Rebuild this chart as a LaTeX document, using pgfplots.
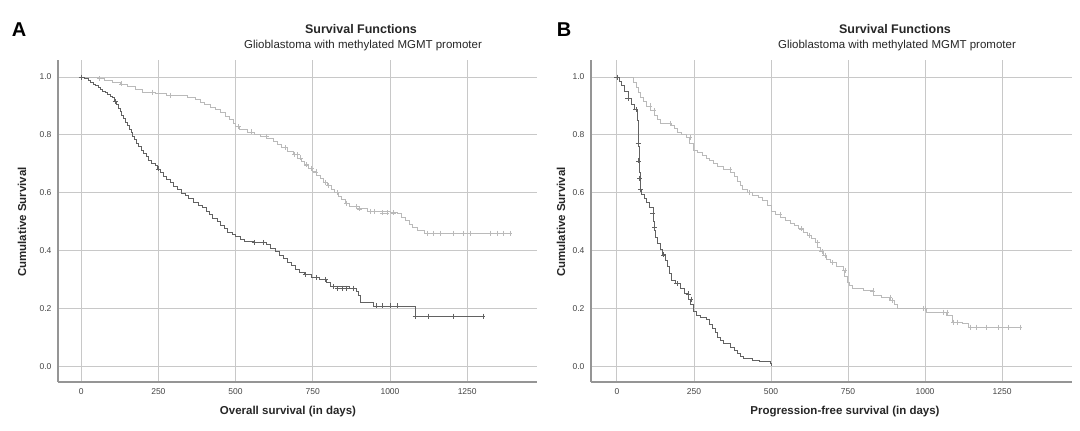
\documentclass[border=0pt]{standalone}
\usepackage{fontspec}
\setmainfont{Liberation Sans}
\usepackage{pgfplots}
\pgfplotsset{compat=1.18}
\definecolor{darkc}{HTML}{626262}
\definecolor{lightc}{HTML}{BABABA}
\definecolor{gridc}{HTML}{C8C8C8}
\definecolor{spinec}{HTML}{959595}
\definecolor{tickc}{HTML}{444444}
\pgfplotsset{
  kmaxis/.style={
    scale only axis,
    anchor=south west,
    height=322pt,
    ymin=-0.055, ymax=1.059,
    axis lines*=left,
    axis line style={draw=spinec, line width=1.1pt},
    grid=major,
    major grid style={draw=gridc, line width=0.8pt},
    major tick length=0pt,
    xtick={0,250,500,750,1000,1250},
    ytick={0,0.2,0.4,0.6,0.8,1.0},
    yticklabel style={/pgf/number format/.cd, fixed, fixed zerofill, precision=1, /tikz/.cd},
    /pgf/number format/assume math mode=true,
    /pgf/number format/1000 sep={},
    tick label style={font=\fontsize{8.5}{10}\selectfont, text=tickc},
    xticklabel style={yshift=-3pt},
    yticklabel style={xshift=-3pt},
    clip=false,
  },
  darkline/.style={const plot, color=darkc, line width=0.75pt, mark=none},
  lightline/.style={const plot, color=lightc, line width=0.9pt, mark=none},
  darkmark/.style={only marks, mark=+, mark size=2.5pt, color=darkc, mark options={line width=0.6pt}},
  lightmark/.style={only marks, mark=+, mark size=2.5pt, color=lightc, mark options={line width=0.6pt}},
}
\begin{document}
\begin{tikzpicture}[x=1pt,y=1pt]
\useasboundingbox (0pt,0pt) rectangle (1080pt,431pt);
% ---------------- Panel A ----------------
\begin{axis}[kmaxis, at={(58pt,49pt)}, width=479pt, xmin=-75, xmax=1476]
\addplot[lightline] coordinates {
(0,1.0)(45,1.0)(58,0.994)(75,0.988)(100,0.982)(126,0.976)(150,0.966)(175,0.957)
(200,0.948)(240,0.942)(275,0.937)(343,0.930)(370,0.922)(385,0.913)(400,0.905)
(420,0.896)(436,0.887)(450,0.876)(466,0.865)(480,0.852)(492,0.840)(500,0.828)
(512,0.818)(537,0.810)(560,0.802)(580,0.795)(600,0.786)(621,0.776)(636,0.766)
(650,0.756)(668,0.744)(686,0.732)(700,0.720)(712,0.708)(724,0.696)(736,0.684)
(750,0.672)(762,0.660)(774,0.648)(786,0.636)(798,0.624)(810,0.612)(820,0.600)
(832,0.588)(844,0.576)(856,0.564)(870,0.552)(890,0.544)(926,0.535)(1000,0.530)
(1023,0.527)(1036,0.515)(1050,0.503)(1062,0.491)(1074,0.480)(1090,0.470)
(1113,0.460)(1388,0.460)};
\addplot[lightmark] coordinates {
(60,0.994)(130,0.976)(230,0.948)(290,0.937)(510,0.828)(550,0.810)(600,0.795)
(660,0.756)(690,0.732)(700,0.732)(710,0.720)(730,0.696)(745,0.684)(760,0.672)(790,0.636)
(800,0.624)(830,0.600)(860,0.564)(890,0.552)(900,0.544)(935,0.535)(950,0.535)
(975,0.530)(990,0.530)(1010,0.530)(1120,0.46)(1140,0.46)(1162,0.46)(1204,0.46)
(1236,0.46)(1259,0.46)(1324,0.46)(1346,0.46)(1366,0.46)(1388,0.46)};
\addplot[darkline] coordinates {
(0,1.0)(12,0.994)(22,0.988)(30,0.982)(38,0.976)(46,0.970)(55,0.964)(62,0.958)
(70,0.952)(78,0.946)(86,0.940)(95,0.934)(102,0.928)(108,0.916)(114,0.904)
(120,0.892)(126,0.880)(131,0.868)(137,0.856)(143,0.844)(150,0.832)(156,0.820)
(161,0.808)(166,0.796)(172,0.784)(178,0.772)(186,0.760)(194,0.748)(202,0.736)
(210,0.724)(218,0.712)(228,0.700)(240,0.694)(248,0.682)(256,0.670)(266,0.658)
(276,0.646)(288,0.634)(300,0.622)(312,0.610)(324,0.598)(336,0.592)(348,0.580)
(362,0.568)(378,0.556)(392,0.548)(404,0.536)(414,0.524)(426,0.512)(440,0.500)
(452,0.488)(464,0.476)(474,0.464)(488,0.456)(500,0.448)(514,0.440)(530,0.432)
(560,0.428)(600,0.420)(612,0.408)(628,0.396)(642,0.384)(656,0.372)(668,0.360)
(680,0.348)(692,0.336)(705,0.324)(724,0.316)(745,0.306)(770,0.300)(795,0.288)
(808,0.276)(870,0.270)(890,0.258)(897,0.245)(903,0.220)(945,0.208)(1081,0.173)
(1301,0.173)};
\addplot[darkmark] coordinates {
(0,1.0)(110,0.916)(250,0.682)(560,0.428)(590,0.428)(725,0.316)(760,0.306)(790,0.300)
(815,0.276)(830,0.270)(845,0.270)(860,0.270)(880,0.270)(955,0.208)(975,0.208)
(1000,0.208)(1023,0.208)(1081,0.173)(1123,0.173)(1204,0.173)(1301,0.173)};
\end{axis}
% ---------------- Panel B ----------------
\begin{axis}[kmaxis, at={(591pt,49pt)}, width=481pt, xmin=-84, xmax=1477]
\addplot[lightline] coordinates {
(0,1.0)(45,1.0)(55,0.98)(65,0.965)(70,0.948)(75,0.930)(86,0.915)(97,0.900)
(110,0.884)(123,0.868)(132,0.855)(140,0.840)(178,0.834)(186,0.822)(195,0.810)
(210,0.800)(227,0.790)(237,0.770)(247,0.745)(263,0.738)(279,0.730)(290,0.720)
(300,0.710)(312,0.700)(325,0.690)(345,0.680)(367,0.670)(380,0.655)(390,0.640)
(400,0.625)(409,0.610)(425,0.600)(440,0.590)(458,0.582)(474,0.574)(490,0.555)
(503,0.535)(516,0.525)(530,0.515)(546,0.505)(562,0.495)(576,0.485)(590,0.475)
(604,0.464)(617,0.453)(630,0.442)(645,0.428)(652,0.412)(659,0.396)(670,0.384)
(681,0.370)(692,0.358)(712,0.345)(734,0.332)(740,0.310)(747,0.290)(756,0.280)
(766,0.270)(800,0.260)(831,0.246)(858,0.238)(886,0.228)(900,0.215)(912,0.200)
(994,0.200)(1006,0.187)(1071,0.176)(1088,0.152)(1123,0.149)(1140,0.135)(1308,0.135)};
\addplot[lightmark] coordinates {
(107,0.900)(120,0.884)(172,0.840)(237,0.790)(367,0.680)(430,0.600)(529,0.525)
(600,0.475)(625,0.453)(650,0.428)(665,0.396)(675,0.384)(700,0.358)(740,0.332)
(831,0.260)(886,0.238)(895,0.228)(994,0.200)(1000,0.200)(1060,0.187)(1071,0.187)
(1092,0.152)(1105,0.152)(1146,0.135)(1167,0.135)(1200,0.135)(1238,0.135)
(1270,0.135)(1308,0.135)};
\addplot[darkline] coordinates {
(0,1.0)(8,0.985)(15,0.970)(25,0.950)(36,0.925)(46,0.905)(58,0.888)(65,0.875)
(68,0.85)(69,0.82)(70,0.79)(71,0.76)(72,0.73)(73,0.70)(74,0.67)(75,0.64)(76,0.61)
(80,0.595)(88,0.580)(97,0.565)(107,0.548)(117,0.530)(120,0.50)(123,0.470)
(126,0.445)(133,0.425)(140,0.405)(148,0.385)(156,0.367)(163,0.345)(170,0.322)
(178,0.298)(190,0.285)(205,0.270)(220,0.250)(232,0.232)(240,0.215)(247,0.190)
(258,0.175)(270,0.168)(292,0.160)(300,0.145)(310,0.130)(318,0.115)(325,0.100)
(335,0.090)(345,0.080)(367,0.066)(380,0.055)(390,0.045)(400,0.035)(409,0.028)
(440,0.020)(464,0.015)(497,0.010)(500,0.0)};
\addplot[darkmark] coordinates {
(0,1.0)(36,0.925)(62,0.888)(69,0.77)(71,0.71)(74,0.65)(76,0.61)(117,0.53)
(123,0.48)(152,0.385)(195,0.285)(231,0.250)(240,0.232)};
\end{axis}
% ---------------- Texts ----------------
\node[font=\fontsize{20}{22}\selectfont\bfseries, anchor=center] at (19pt,401pt) {A};
\node[font=\fontsize{20}{22}\selectfont\bfseries, anchor=center] at (564pt,401pt) {B};
\node[font=\fontsize{12.5}{14}\selectfont\bfseries, text=black!85] at (361pt,402pt) {Survival Functions};
\node[font=\fontsize{11.5}{14}\selectfont, text=black!85] at (363pt,385pt) {Glioblastoma with methylated MGMT promoter};
\node[font=\fontsize{12.5}{14}\selectfont\bfseries, text=black!85] at (895pt,402pt) {Survival Functions};
\node[font=\fontsize{11.5}{14}\selectfont, text=black!85] at (897pt,385pt) {Glioblastoma with methylated MGMT promoter};
\node[font=\fontsize{11.5}{14}\selectfont\bfseries, text=black!85] at (288pt,19pt) {Overall survival (in days)};
\node[font=\fontsize{11.5}{14}\selectfont\bfseries, text=black!85] at (845pt,19pt) {Progression-free survival (in days)};
\node[font=\fontsize{11.5}{14}\selectfont\bfseries, text=black!85, rotate=90] at (22pt,209pt) {Cumulative Survival};
\node[font=\fontsize{11.5}{14}\selectfont\bfseries, text=black!85, rotate=90] at (561pt,209pt) {Cumulative Survival};
\end{tikzpicture}
\end{document}
